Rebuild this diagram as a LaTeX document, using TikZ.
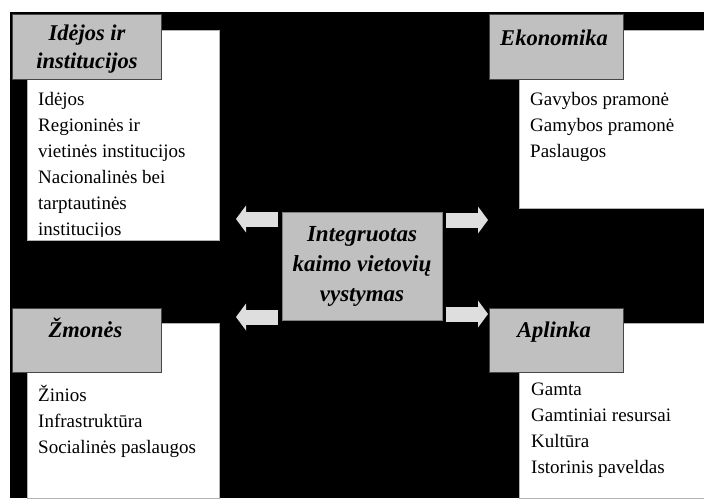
\documentclass[tikz,border=0pt]{standalone}
\usepackage{fontspec}
\setmainfont{Liberation Serif}
\usetikzlibrary{arrows.meta}
\definecolor{headgray}{RGB}{192,192,192}
\definecolor{arrowgray}{RGB}{222,222,222}
\definecolor{edgegray}{RGB}{70,70,70}

\tikzset{
  panel/.style={draw=gray!60, fill=white, line width=0.8pt, inner sep=0pt},
  header/.style={draw=edgegray, fill=headgray, line width=1pt, inner sep=0pt},
  headtext/.style={font=\fontsize{22.5}{28}\selectfont\bfseries\itshape, align=center, anchor=base, inner sep=0pt},
  itemtext/.style={font=\fontsize{19}{26}\selectfont, align=left, anchor=base west, inner sep=0pt},
  blockarrow/.style={draw=arrowgray, line width=15pt, -{Triangle[width=27pt,length=10pt,line width=0pt]}}
}

\begin{document}
\begin{tikzpicture}[x=1pt,y=-1pt]
\useasboundingbox (0,0) rectangle (704,498);
\fill[white] (0,0) rectangle (704,498);
\fill[black] (10,12) rectangle (704,498);

\node[panel, minimum width=192, minimum height=210] (ideasPanel) at (123,135) {};
\node[panel, minimum width=185, minimum height=178] (econPanel) at (611.5,119) {};
\node[panel, minimum width=192, minimum height=175] (peoplePanel) at (123,410.5) {};
\node[panel, minimum width=185, minimum height=175] (envPanel) at (611.5,410.5) {};

\node[header, minimum width=149, minimum height=65] (ideasHead) at (86.5,46.5) {};
\node[header, minimum width=134, minimum height=65] (econHead) at (556,46.5) {};
\node[header, minimum width=149, minimum height=64] (peopleHead) at (86.5,340) {};
\node[header, minimum width=134, minimum height=64] (envHead) at (556,340) {};

% base anchor sits on the last line
\node[headtext] (ideasTitle) at (87,68) {Idėjos ir\\institucijos};
\node[headtext] (econTitle) at (554,45) {Ekonomika};
\node[headtext] (peopleTitle) at (85.5,337) {Žmonės};
\node[headtext] (envTitle) at (554,337) {Aplinka};

\begin{scope}
\clip (27,30) rectangle (219,236.5);
\node[itemtext] (ideasList) at (38,235) {Idėjos\\Regioninės ir\\vietinės institucijos\\Nacionalinės bei\\tarptautinės\\institucijos};
\end{scope}
\node[itemtext] (econList) at (530,157) {Gavybos pramonė\\Gamybos pramonė\\Paslaugos};
\node[itemtext] (peopleList) at (38,453) {Žinios\\Infrastruktūra\\Socialinės paslaugos};
\node[itemtext] (envList) at (531,473) {Gamta\\Gamtiniai resursai\\Kultūra\\Istorinis paveldas};

\node[header, draw=gray, minimum width=160, minimum height=108, align=center,
  font=\fontsize{23}{30}\selectfont\bfseries\itshape] (core) at (362,266) {Integruotas\\kaimo vietovių\\vystymas};

\coordinate (ideasTip) at (236,219);
\coordinate (econTip) at (488,220);
\coordinate (peopleTip) at (236,317);
\coordinate (envTip) at (488,314);
\draw[blockarrow] ([xshift=-4pt]core.west |- ideasTip) -- (ideasTip);
\draw[blockarrow] ([xshift=3pt]core.east |- econTip) -- (econTip);
\draw[blockarrow] ([xshift=-4pt]core.west |- peopleTip) -- (peopleTip);
\draw[blockarrow] ([xshift=3pt]core.east |- envTip) -- (envTip);
\end{tikzpicture}
\end{document}
